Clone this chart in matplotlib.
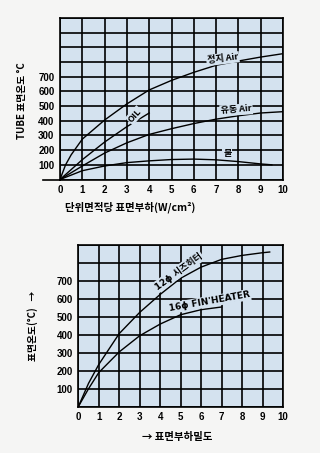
import matplotlib.pyplot as plt

plt.rcParams['font.family'] = ['Noto Sans CJK KR', 'DejaVu Sans']

# top chart: TUBE surface temperature vs surface load (W/cm2)
still_x = [0, 0.25, 0.5, 1, 2, 3, 4, 5, 6, 7, 8, 9, 10]
still_y = [0, 100, 168, 275, 405, 515, 610, 675, 730, 778, 807, 834, 857]
oil_x = [0, 1, 2, 3, 4]
oil_y = [0, 135, 255, 360, 453]
flow_x = [0, 1, 2, 3, 4, 5, 6, 7, 8, 9, 10]
flow_y = [0, 92, 180, 250, 307, 346, 381, 411, 434, 453, 462]
water_x = [0, 1, 2, 3, 4, 5, 6, 7, 8, 9, 9.5]
water_y = [0, 60, 92, 115, 127, 136, 139, 134, 122, 106, 100]

# bottom chart: heater surface temperature vs load density
sheath_x = [0, 0.5, 1, 2, 3, 4, 5, 6, 7, 8, 9, 9.35]
sheath_y = [0, 130, 235, 407, 525, 625, 715, 777, 820, 842, 857, 861]
fin_x = [0, 0.5, 1, 2, 3, 4, 5, 6, 7]
fin_y = [0, 100, 190, 305, 395, 460, 512, 540, 555]

x_ticks = list(range(0, 11))
top_yticks = list(range(0, 1101, 100))
top_ylabels = ['', '100', '200', '300', '400', '500', '600', '700', '', '', '', '']
bot_yticks = list(range(0, 901, 100))
bot_ylabels = ['', '100', '200', '300', '400', '500', '600', '700', '', '']

bg = '#d4e2ef'
W, H = 320, 453
fig = plt.figure(figsize=(3.2, 4.53), dpi=100, facecolor='#f5f5f4')
greek = ['DejaVu Sans', 'Noto Sans CJK KR']

def px_axes(l, t, r, b):
    return fig.add_axes([l / W, (H - b) / H, (r - l) / W, (b - t) / H])

def style(ax, ylim, yticks, ylabels):
    ax.set_facecolor(bg)
    ax.set_xlim(0, 10)
    ax.set_ylim(*ylim)
    ax.set_xticks(x_ticks)
    ax.set_yticks(yticks)
    ax.set_yticklabels(ylabels)
    ax.grid(True, color='black', lw=1.2)
    ax.set_axisbelow(True)
    ax.tick_params(length=0, labelsize=7, pad=4)
    for lab in ax.get_xticklabels() + ax.get_yticklabels():
        lab.set_family('Liberation Sans')
        lab.set_fontweight('bold')
    for s in ax.spines.values():
        s.set_linewidth(1.2)

lbl = dict(facecolor=bg, edgecolor='none', pad=0.8)
kw = dict(fontsize=6.5, fontweight='bold', ha='center', va='center', bbox=lbl)

# ---- top chart
ax1 = px_axes(60, 18, 283, 179.5)
style(ax1, (0, 1100), top_yticks, top_ylabels)
for xs, ys in [(still_x, still_y), (oil_x, oil_y), (flow_x, flow_y), (water_x, water_y)]:
    ax1.plot(xs, ys, color='black', lw=1.0)
ax1.plot([-0.075, 0], [0, 0], transform=ax1.transAxes, color='black', lw=1.2, clip_on=False)
ax1.text(7.3, 823, '정지 Air', rotation=7, **kw)
ax1.text(3.35, 437, 'OIL', rotation=48, **kw)
ax1.text(7.9, 475, '유동 Air', rotation=4, **kw)
ax1.text(7.5, 178, '물', rotation=0, **kw)
fig.text(22 / W, (H - 101) / H, 'TUBE 표면온도 °C', rotation=90, fontsize=7,
         fontweight='bold', ha='center', va='center')
fig.text(130 / W, (H - 207) / H, '단위면적당 표면부하(W/cm²)', fontsize=7.5,
         fontweight='bold', ha='center', va='center')

# ---- bottom chart
ax2 = px_axes(78.3, 245, 283, 406.7)
style(ax2, (0, 900), bot_yticks, bot_ylabels)
ax2.plot(sheath_x, sheath_y, color='black', lw=1.0)
ax2.plot(fin_x, fin_y, color='black', lw=1.0)
ax2.text(4.9, 752, '12ϕ 시즈히터', rotation=36, family=greek, **kw)
ax2.text(6.4, 585, '16ϕ FIN\'HEATER', rotation=10, family=greek, **kw)
fig.text(33 / W, (H - 326) / H, '표면온도(°C)   →', rotation=90, fontsize=7,
         fontweight='bold', ha='center', va='center')
fig.text(177 / W, (H - 437) / H, '→ 표면부하밀도', fontsize=7.5,
         fontweight='bold', ha='center', va='center')

fig.savefig('out.png', dpi=100, facecolor=fig.get_facecolor())
